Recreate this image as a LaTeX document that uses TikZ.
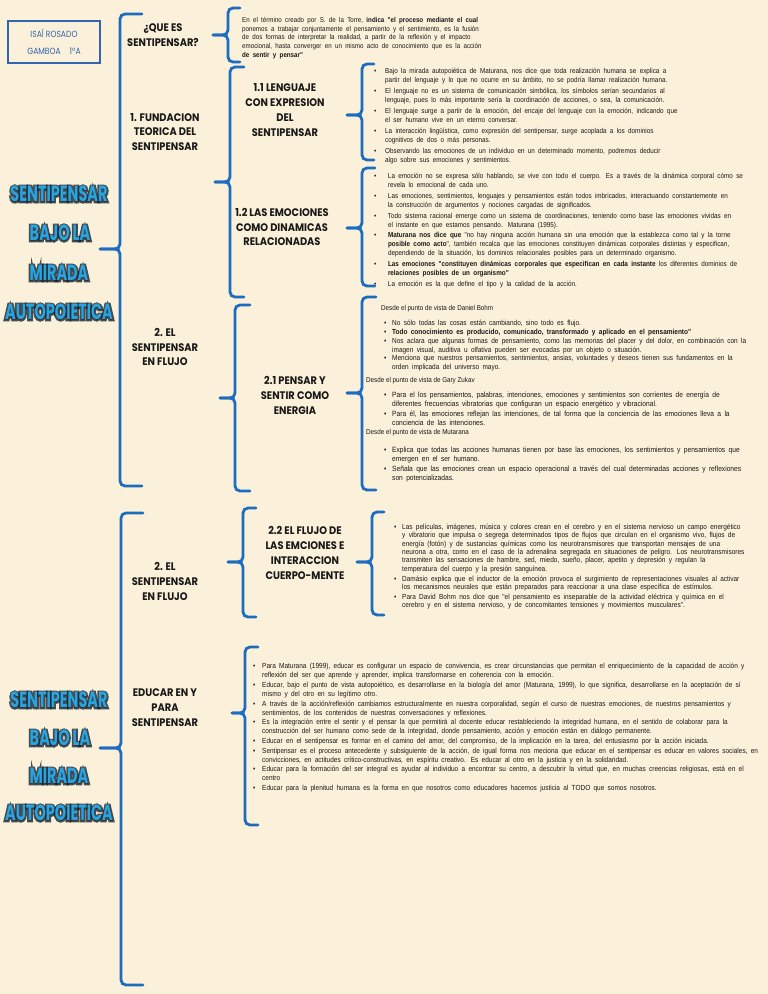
\documentclass[tikz,border=0pt]{standalone}
\usepackage{fontspec}
\newfontfamily\bodyf[FakeStretch=0.88]{Liberation Sans}
\newfontfamily\handf[FakeStretch=0.9]{Poppins}
\newfontfamily\namef[FakeStretch=0.85]{Poppins}
\newfontfamily\titlef[FakeStretch=0.66]{Poppins}
\newfontfamily\titleglowf[FakeStretch=0.66,FakeBold=16]{Poppins}
\definecolor{paper}{RGB}{251,240,217}
\definecolor{braceblue}{RGB}{28,108,192}
\definecolor{titleblue}{RGB}{40,165,225}
\definecolor{glowc}{RGB}{25,35,45}
\definecolor{namecol}{RGB}{50,100,175}
\newlength\bind
\newcommand\bitem{\par\noindent\hangindent=\bind\hangafter=1\makebox[\bind][l]{\textbullet}\ignorespaces}
\newcommand\fl{\rule{0pt}{6.2bp}}
\newcommand\cbrace[6]{%
  \draw[bracestyle] (#6,#2) -- (#1,#2) -- (#1,#4) -- (#5,#4);
  \draw[bracestyle] (#5,#4) -- (#1,#4) -- (#1,#3) -- (#6,#3);}
\newcommand\gtitle[4]{%
  \node[ttlglow] (#1g) at (#2,#3) {#4};
  \node[ttl] (#1) at (#2,#3) {#4};}
\tikzset{
  bracestyle/.style={draw=braceblue, line width=2.8bp, rounded corners=5bp, line cap=round},
  lbl/.style={font=\handf\bfseries\fontsize{11}{15}\selectfont, align=center, inner sep=0pt, text=black!90},
  ttl/.style={font=\titlef\bfseries\fontsize{22}{22}\selectfont, inner sep=0pt, text=titleblue},
  ttlglow/.style={font=\titleglowf\bfseries\fontsize{22}{22}\selectfont, inner sep=0pt, text=glowc, text opacity=0.8},
  txt/.style={anchor=north west, inner sep=0pt, text width=#1, text=black!90},
  head/.style={anchor=base west, inner sep=0pt, text=black!90, font=\bodyf\fontsize{7.16}{8.8}\selectfont},
  namebox/.style={draw=namecol, line width=1.1bp, minimum width=92bp, minimum height=42bp, align=center, font=\namef\fontsize{9}{17}\selectfont, text=namecol, inner sep=0pt},
}
\begin{document}
\begin{tikzpicture}[x=1bp,y=-1bp]
\useasboundingbox (0,0) rectangle (768,994);
\fill[paper] (0,0) rectangle (768,994);

% name box
\node[namebox] (name) at (54,42) {ISAÍ ROSADO\\GAMBOA\quad 1ºA};

% titles
\gtitle{ta}{59}{194}{SENTIPENSAR}
\gtitle{tb}{60}{233}{BAJO LA}
\gtitle{tc}{59}{273}{MIRADA}
\gtitle{td}{59}{312}{AUTOPOIETICA}
\gtitle{te}{59}{700}{SENTIPENSAR}
\gtitle{tf}{60}{738}{BAJO LA}
\gtitle{tg}{59}{776}{MIRADA}
\gtitle{th}{59}{813}{AUTOPOIETICA}

% braces
\cbrace{120}{14}{486}{249}{100}{142}
\cbrace{121}{513}{985}{748}{100}{143}
\cbrace{228}{8}{62}{35}{213}{240}
\cbrace{230}{67}{297}{182}{215}{244}
\cbrace{235}{305}{491}{398}{220}{250}
\cbrace{243}{508}{617}{562}{228}{256}
\cbrace{245}{647}{825}{713}{232}{258}
\cbrace{362}{64}{160}{115}{347}{374}
\cbrace{362}{168}{286}{228}{347}{375}
\cbrace{362}{297}{490}{393}{347}{376}
\cbrace{372}{512}{615}{562}{357}{384}

% labels
\node[lbl] (q) at (163,35.5) {¿QUE ES\\SENTIPENSAR?};
\node[lbl] (fund) at (165,132) {1. FUNDACION\\TEORICA DEL\\SENTIPENSAR};
\node[lbl] (flujoa) at (165,347) {2. EL\\SENTIPENSAR\\EN FLUJO};
\node[lbl] (l11) at (285,110) {1.1 LENGUAJE\\CON EXPRESION\\DEL\\SENTIPENSAR};
\node[lbl] (l12) at (282,227) {1.2 LAS EMOCIONES\\COMO DINAMICAS\\RELACIONADAS};
\node[lbl] (l21) at (295,395) {2.1 PENSAR Y\\SENTIR COMO\\ENERGIA};
\node[lbl] (flujob) at (165,581) {2. EL\\SENTIPENSAR\\EN FLUJO};
\node[lbl] (l22) at (305,553) {2.2 EL FLUJO DE\\LAS EMCIONES E\\INTERACCION\\CUERPO-MENTE};
\node[lbl] (edu) at (165,708) {EDUCAR EN Y\\PARA\\SENTIPENSAR};

% text blocks
\node[txt=320bp] (ta1) at (242,15.8) {\bodyf\fontsize{7.07}{8.9}\selectfont\parindent=0pt\parskip=0pt%
\noindent\fl En el término creado por S. de la Torre, \textbf{indica "el proceso mediante el cual}\newline
ponemos a trabajar conjuntamente el pensamiento y el sentimiento, es la fusión\newline
de dos formas de interpretar la realidad, a partir de la reflexión y el impacto\newline
emocional, hasta converger en un mismo acto de conocimiento que es la acción\newline
\textbf{de sentir y pensar"}\par};

\node[txt=395bp] (t11) at (373.8,63.8) {\bodyf\fontsize{7.23}{9.3}\selectfont\parindent=0pt\parskip=0pt\setlength\bind{11.2bp}%
\bitem\fl\setlength\parskip{1.5bp}Bajo la mirada autopoiética de Maturana, nos dice que toda realización humana se explica a\newline partir del lenguaje y lo que no ocurre en su ámbito, no se podría llamar realización humana.
\bitem El lenguaje no es un sistema de comunicación simbólica, los símbolos serían secundarios al\newline lenguaje, pues lo más importante sería la coordinación de acciones, o sea, la comunicación.
\bitem El lenguaje surge a partir de la emoción, del encaje del lenguaje con la emoción, indicando que\newline el ser humano vive en un eterno conversar.
\bitem La interacción lingüística, como expresión del sentipensar, surge acoplada a los dominios\newline cognitivos de dos o más personas.
\bitem Observando las emociones de un individuo en un determinado momento, podremos deducir\newline algo sobre sus emociones y sentimientos.\par};

\node[txt=395bp] (t12) at (373.8,169.8) {\bodyf\fontsize{7.22}{8.8}\selectfont\parindent=0pt\parskip=0pt\setlength\bind{14bp}%
\bitem\fl\setlength\parskip{2.2bp}La emoción no se expresa sólo hablando, se vive con todo el cuerpo. Es a través de la dinámica corporal cómo se\newline revela lo emocional de cada uno.
\bitem Las emociones, sentimientos, lenguajes y pensamientos están todos imbricados, interactuando constantemente en\newline la construcción de argumentos y nociones cargadas de significados.
\bitem Todo sistema racional emerge como un sistema de coordinaciones, teniendo como base las emociones vividas en\newline el instante en que estamos pensando. Maturana (1995).
\bitem \textbf{Maturana nos dice que} "no hay ninguna acción humana sin una emoción que la establezca como tal y la torne\newline \textbf{posible como acto}", también recalca que las emociones constituyen dinámicas corporales distintas y especifican,\newline dependiendo de la situación, los dominios relacionales posibles para un determinado organismo.
\bitem \textbf{Las emociones "constituyen dinámicas corporales que especifican en cada instante} los diferentes dominios de\newline \textbf{relaciones posibles de un organismo"}
\bitem La emoción es la que define el tipo y la calidad de la acción.\par};

\node[head] (h21a) at (381,310) {Desde el punto de vista de Daniel Bohm};
\node[txt=385bp] (t21a) at (383.8,316.8) {\bodyf\fontsize{7.39}{8.8}\selectfont\parindent=0pt\parskip=0pt\setlength\bind{8.2bp}%
\bitem\fl No sólo todas las cosas están cambiando, sino todo es flujo.
\bitem \textbf{Todo conocimiento es producido, comunicado, transformado y aplicado en el pensamiento"}
\bitem Nos aclara que algunas formas de pensamiento, como las memorias del placer y del dolor, en combinación con la\newline imagen visual, auditiva u olfativa pueden ser evocadas por un objeto o situación.
\bitem Menciona que nuestros pensamientos, sentimientos, ansias, voluntades y deseos tienen sus fundamentos en la\newline orden implicada del universo mayo.\par};

\node[head] (h21b) at (366,382) {Desde el punto de vista de Gary Zukav};
\node[txt=385bp] (t21b) at (383.8,388.8) {\bodyf\fontsize{7.6}{9}\selectfont\parindent=0pt\parskip=0pt\setlength\bind{8.2bp}%
\bitem\fl\setlength\parskip{1bp}Para el los pensamientos, palabras, intenciones, emociones y sentimientos son corrientes de energía de\newline diferentes frecuencias vibratorias que configuran un espacio energético y vibracional.
\bitem Para él, las emociones reflejan las intenciones, de tal forma que la conciencia de las emociones lleva a la\newline conciencia de las intenciones.\par};

\node[head] (h21c) at (366,434) {Desde el punto de vista de Mutarana};
\node[txt=385bp] (t21c) at (383.8,443.8) {\bodyf\fontsize{7.6}{9}\selectfont\parindent=0pt\parskip=0pt\setlength\bind{8.2bp}%
\bitem\fl\setlength\parskip{1bp}Explica que todas las acciones humanas tienen por base las emociones, los sentimientos y pensamientos que\newline emergen en el ser humano.
\bitem Señala que las emociones crean un espacio operacional a través del cual determinadas acciones y reflexiones\newline son potencializadas.\par};

\node[txt=374bp] (t22) at (393.8,520.8) {\bodyf\fontsize{7.39}{8.4}\selectfont\parindent=0pt\parskip=0pt\setlength\bind{8.2bp}%
\bitem\fl\setlength\parskip{1.5bp}Las películas, imágenes, música y colores crean en el cerebro y en el sistema nervioso un campo energético\newline y vibratorio que impulsa o segrega determinados tipos de flujos que circulan en el organismo vivo, flujos de\newline energía (fotón) y de sustancias químicas como los neurotransmisores que transportan mensajes de una\newline neurona a otra, como en el caso de la adrenalina segregada en situaciones de peligro. Los neurotransmisores\newline transmiten las sensaciones de hambre, sed, miedo, sueño, placer, apetito y depresión y regulan la\newline temperatura del cuerpo y la presión sanguínea.
\bitem Damásio explica que el inductor de la emoción provoca el surgimiento de representaciones visuales al activar\newline los mecanismos neurales que están preparados para reaccionar a una clase específica de estímulos.
\bitem Para David Bohm nos dice que "el pensamiento es inseparable de la actividad eléctrica y química en el\newline cerebro y en el sistema nervioso, y de concomitantes tensiones y movimientos musculares".\par};

\node[txt=600bp] (tedu) at (252.8,659.8) {\bodyf\fontsize{7.38}{8.9}\selectfont\parindent=0pt\parskip=0pt\setlength\bind{9.2bp}%
\bitem\fl\setlength\parskip{0.9bp}Para Maturana (1999), educar es configurar un espacio de convivencia, es crear circunstancias que permitan el enriquecimiento de la capacidad de acción y\newline reflexión del ser que aprende y aprender, implica transformarse en coherencia con la emoción.
\bitem Educar, bajo el punto de vista autopoiético, es desarrollarse en la biología del amor (Maturana, 1999), lo que significa, desarrollarse en la aceptación de sí\newline mismo y del otro en su legítimo otro.
\bitem A través de la acción/reflexión cambiamos estructuralmente en nuestra corporalidad, según el curso de nuestras emociones, de nuestros pensamientos y\newline sentimientos, de los contenidos de nuestras conversaciones y reflexiones.
\bitem Es la integración entre el sentir y el pensar la que permitirá al docente educar restableciendo la integridad humana, en el sentido de colaborar para la\newline construcción del ser humano como sede de la integridad, donde pensamiento, acción y emoción están en diálogo permanente.
\bitem Educar en el sentipensar es formar en el camino del amor, del compromiso, de la implicación en la tarea, del entusiasmo por la acción iniciada.
\bitem Sentipensar es el proceso antecedente y subsiguiente de la acción, de igual forma nos meciona que educar en el sentipensar es educar en valores sociales, en\newline convicciones, en actitudes crítico-constructivas, en espíritu creativo. Es educar al otro en la justicia y en la solidaridad.
\bitem Educar para la formación del ser integral es ayudar al individuo a encontrar su centro, a descubrir la virtud que, en muchas creencias religiosas, está en el\newline centro
\bitem Educar para la plenitud humana es la forma en que nosotros como educadores hacemos justicia al TODO que somos nosotros.\par};
\end{tikzpicture}
\end{document}
